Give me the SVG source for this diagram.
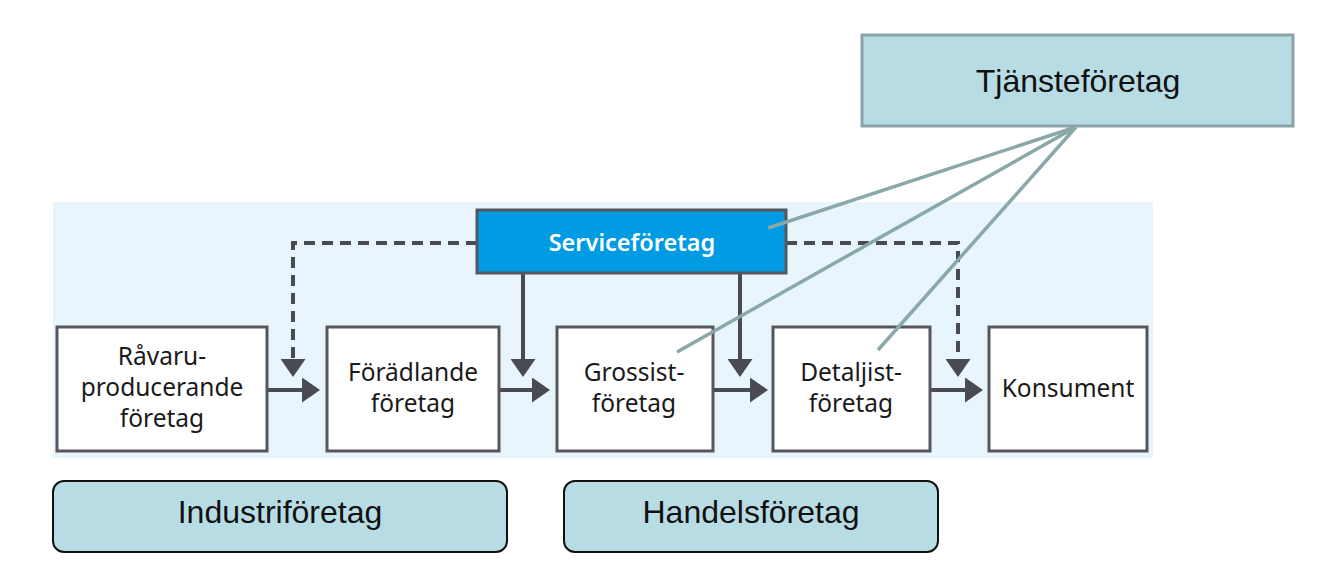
<svg xmlns="http://www.w3.org/2000/svg" width="1326" height="584" viewBox="0 0 1326 584">
<defs>
<style>
.box{fill:#fff;stroke:#56565c;stroke-width:3}
.t{font-family:"Noto Sans",sans-serif;font-size:24.5px;fill:#1a1a1a;text-anchor:middle}
.a{fill:none;stroke:#4a4a52;stroke-width:4}
.d{fill:none;stroke:#4a4a52;stroke-width:4;stroke-dasharray:11 7}
.g{fill:none;stroke:#8aa8a8;stroke-width:3.5}
.cat{fill:#b8dce3;stroke:#111;stroke-width:2}
.ct{font-family:"Liberation Sans",Arial,sans-serif;font-size:32px;fill:#111;text-anchor:middle}
</style>
<marker id="ah" viewBox="0 0 18 25" refX="0" refY="12.5" markerWidth="18" markerHeight="25" markerUnits="userSpaceOnUse" orient="auto">
<path d="M0,0 L18,12.5 L0,25 Z" fill="#4a4a52"/>
</marker>
</defs>
<rect width="1326" height="584" fill="#fff"/>
<rect x="53" y="202" width="1100" height="256" fill="#e9f5fc"/>
<g id="tjanste">
<rect x="862" y="35" width="431" height="91" fill="#b8dce3" stroke="#8aa3a8" stroke-width="3"/>
<text x="1078" y="92" class="ct">Tjänsteföretag</text>
</g>
<g id="connectors">
<path class="d" d="M477,243 H293 V359" marker-end="url(#ah)"/>
<path class="d" d="M786,243 H958 V359" marker-end="url(#ah)"/>
<path class="a" d="M523,273 V359" marker-end="url(#ah)"/>
<path class="a" d="M740,273 V359" marker-end="url(#ah)"/>
<path class="a" d="M267,390 H302" marker-end="url(#ah)"/>
<path class="a" d="M499,390 H532" marker-end="url(#ah)"/>
<path class="a" d="M713,390 H750" marker-end="url(#ah)"/>
<path class="a" d="M930,390 H965" marker-end="url(#ah)"/>
</g>
<g id="service">
<rect x="477" y="210" width="309" height="63" fill="#009be3" stroke="#56565c" stroke-width="3"/>
<text x="632" y="251" class="t" style="fill:#fff;font-weight:600;font-size:23.5px">Serviceföretag</text>
</g>
<g id="ravaru">
<rect x="57" y="327" width="210" height="124" class="box"/>
<text class="t" x="162" y="365">Råvaru-</text>
<text class="t" x="162" y="396">producerande</text>
<text class="t" x="162" y="427">företag</text>
</g>
<g id="foradlande">
<rect x="327" y="327" width="172" height="124" class="box"/>
<text class="t" x="413" y="381">Förädlande</text>
<text class="t" x="413" y="412">företag</text>
</g>
<g id="grossist">
<rect x="557" y="327" width="156" height="124" class="box"/>
<text class="t" x="634" y="381">Grossist-</text>
<text class="t" x="634" y="412">företag</text>
</g>
<g id="detaljist">
<rect x="773" y="327" width="157" height="124" class="box"/>
<text class="t" x="851" y="381">Detaljist-</text>
<text class="t" x="851" y="412">företag</text>
</g>
<g id="konsument">
<rect x="989" y="327" width="158" height="124" class="box"/>
<text class="t" x="1068" y="397">Konsument</text>
</g>
<g id="links">
<path class="g" d="M1076,127 L768,228"/>
<path class="g" d="M1076,127 L677,352"/>
<path class="g" d="M1076,127 L878,350"/>
</g>
<g id="industri">
<rect x="53" y="481" width="454" height="71" rx="11" class="cat"/>
<text class="ct" x="280" y="523">Industriföretag</text>
</g>
<g id="handel">
<rect x="564" y="481" width="374" height="71" rx="11" class="cat"/>
<text class="ct" x="751" y="523">Handelsföretag</text>
</g>
</svg>
